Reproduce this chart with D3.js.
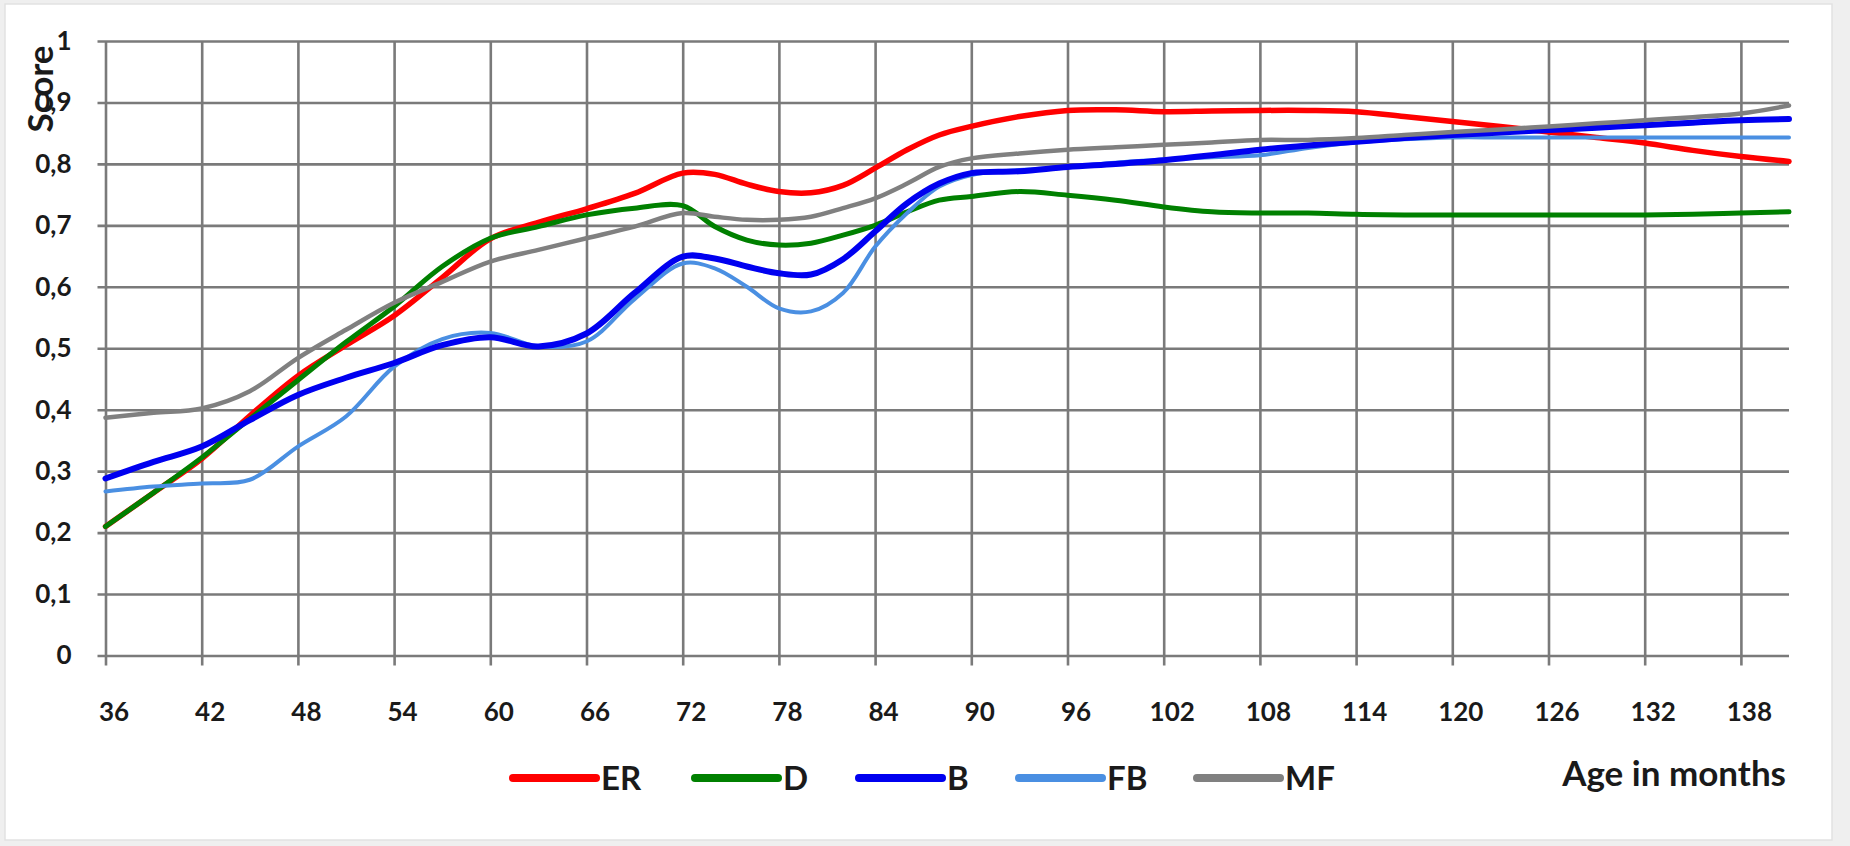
<!DOCTYPE html>
<html><head><meta charset="utf-8">
<script src="https://cdn.jsdelivr.net/npm/d3@7"></script>
<style>
html,body{margin:0;padding:0;background:#efefef;}
svg{display:block;}
text{font-family:Lato,"Open Sans",sans-serif;font-weight:700;fill:#1a1a1a;}
</style></head><body>
<svg id="chart" width="1850" height="846"></svg>
<script>
// ---------- data ----------
const months = [36,39,42,45,48,51,54,57,60,63,66,69,72,74,76,78,80,82,84,86,88,90,93,96,99,102,105,108,111,114,117,120,123,126,129,132,135,138,141];
const xTickValues = [36,42,48,54,60,66,72,78,84,90,96,102,108,114,120,126,132,138];
const yTickValues = [0,0.1,0.2,0.3,0.4,0.5,0.6,0.7,0.8,0.9,1];
const yTickLabels = ["0","0,1","0,2","0,3","0,4","0,5","0,6","0,7","0,8","0,9","1"];
const seriesNames = ["ER","D","B","FB","MF"];

const ER = [0.21,0.265,0.32,0.39,0.455,0.505,0.553,0.615,0.678,0.705,0.727,0.752,0.785,0.783,0.767,0.755,0.753,0.765,0.793,0.823,0.847,0.861,0.877,0.887,0.888,0.885,0.886,0.887,0.887,0.885,0.877,0.869,0.861,0.852,0.843,0.834,0.822,0.812,0.804];
const D  = [0.21,0.265,0.322,0.385,0.448,0.51,0.568,0.633,0.679,0.698,0.717,0.728,0.732,0.698,0.676,0.668,0.671,0.684,0.700,0.722,0.741,0.747,0.755,0.749,0.741,0.730,0.722,0.720,0.720,0.718,0.717,0.717,0.717,0.717,0.717,0.717,0.718,0.720,0.722];
const B  = [0.288,0.315,0.34,0.383,0.424,0.452,0.476,0.505,0.518,0.503,0.524,0.59,0.649,0.646,0.633,0.622,0.62,0.645,0.69,0.736,0.768,0.785,0.788,0.795,0.800,0.806,0.814,0.823,0.830,0.836,0.842,0.847,0.851,0.855,0.859,0.863,0.867,0.871,0.873];
const FB = [0.267,0.275,0.28,0.286,0.34,0.389,0.47,0.515,0.525,0.503,0.511,0.58,0.638,0.63,0.6,0.565,0.56,0.59,0.665,0.72,0.763,0.782,0.79,0.795,0.802,0.807,0.811,0.814,0.826,0.835,0.840,0.843,0.843,0.843,0.843,0.843,0.843,0.843,0.843];
const MF = [0.387,0.395,0.402,0.43,0.484,0.53,0.574,0.608,0.641,0.66,0.679,0.698,0.72,0.714,0.709,0.709,0.714,0.728,0.744,0.768,0.795,0.809,0.817,0.823,0.827,0.831,0.835,0.839,0.839,0.842,0.847,0.852,0.856,0.861,0.866,0.871,0.876,0.882,0.895];
const xTitle = "Age in months";
const yTitle = "Score";

// ---------- styles ----------
const style = {
  ER: {color:"#ff0000", width:5.5},
  D:  {color:"#008000", width:5},
  B:  {color:"#0000f0", width:6},
  FB: {color:"#4a8fe2", width:4},
  MF: {color:"#808080", width:4.5}
};
const drawOrder = ["ER","D","FB","B","MF"];
const valuesByName = {ER, D, B, FB, MF};

const svg = d3.select("#chart");
svg.append("rect").attr("x",5).attr("y",4).attr("width",1827).attr("height",836)
   .attr("fill","#ffffff").attr("stroke","#e2e2e2").attr("stroke-width",1.5);

const x = d3.scaleLinear().domain([36,141]).range([105.5,1789]);
const y = d3.scaleLinear().domain([0,1]).range([655.5,41]);
const gridColor = "#7a7a7a";

// vertical grid + x labels
const xAxis = d3.axisBottom(x).tickValues(xTickValues).tickFormat(d3.format("d"))
  .tickSizeInner(-(y(0)-y(1)+10)).tickSizeOuter(0).tickPadding(37);
const gx = svg.append("g").attr("transform",`translate(0,${y(0)+10})`).call(xAxis);
gx.select(".domain").remove();
gx.selectAll(".tick line").attr("stroke",gridColor).attr("stroke-width",2.6);
gx.selectAll(".tick text").attr("font-size",26).attr("dx",8).attr("fill","#1a1a1a")
  .style("font-family","Lato").style("font-weight","700");

// horizontal grid + y labels
const yAxis = d3.axisLeft(y).tickValues(yTickValues).tickFormat((d,i)=>yTickLabels[i])
  .tickSizeInner(-(x(141)-x(36)+8)).tickSizeOuter(0).tickPadding(26);
const gy = svg.append("g").attr("transform",`translate(${x(36)-8},0)`).call(yAxis);
gy.select(".domain").remove();
gy.selectAll(".tick line").attr("stroke",gridColor).attr("stroke-width",2.6);
gy.selectAll(".tick text").attr("font-size",26).attr("fill","#1a1a1a")
  .style("font-family","Lato").style("font-weight","700");

// lines
const line = d3.line().x(d=>x(d[0])).y(d=>y(d[1])).curve(d3.curveCatmullRom.alpha(0.5));
svg.append("g").selectAll("path").data(drawOrder).join("path")
  .attr("d", n => line(months.map((m,i)=>[m, valuesByName[n][i]])))
  .attr("fill","none")
  .attr("stroke", n => style[n].color)
  .attr("stroke-width", n => style[n].width)
  .attr("stroke-linecap","round").attr("stroke-linejoin","round");

// y title
svg.append("text").attr("transform","translate(53,89) rotate(-90)")
  .attr("text-anchor","middle").attr("font-size",35).text(yTitle);

// x title
svg.append("text").attr("x",1786).attr("y",786).attr("text-anchor","end")
  .attr("font-size",35).text(xTitle);

// legend
const legendX = {ER:513, D:695, B:859, FB:1019, MF:1197};
const lg = svg.append("g").selectAll("g").data(seriesNames).join("g")
  .attr("transform", n => `translate(${legendX[n]},778)`);
lg.append("line").attr("x1",0).attr("x2",83).attr("y1",0).attr("y2",0)
  .attr("stroke", n => style[n].color).attr("stroke-width",8).attr("stroke-linecap","round");
lg.append("text").attr("x",88).attr("y",12).attr("font-size",33).text(n=>n);
</script>
</body></html>
